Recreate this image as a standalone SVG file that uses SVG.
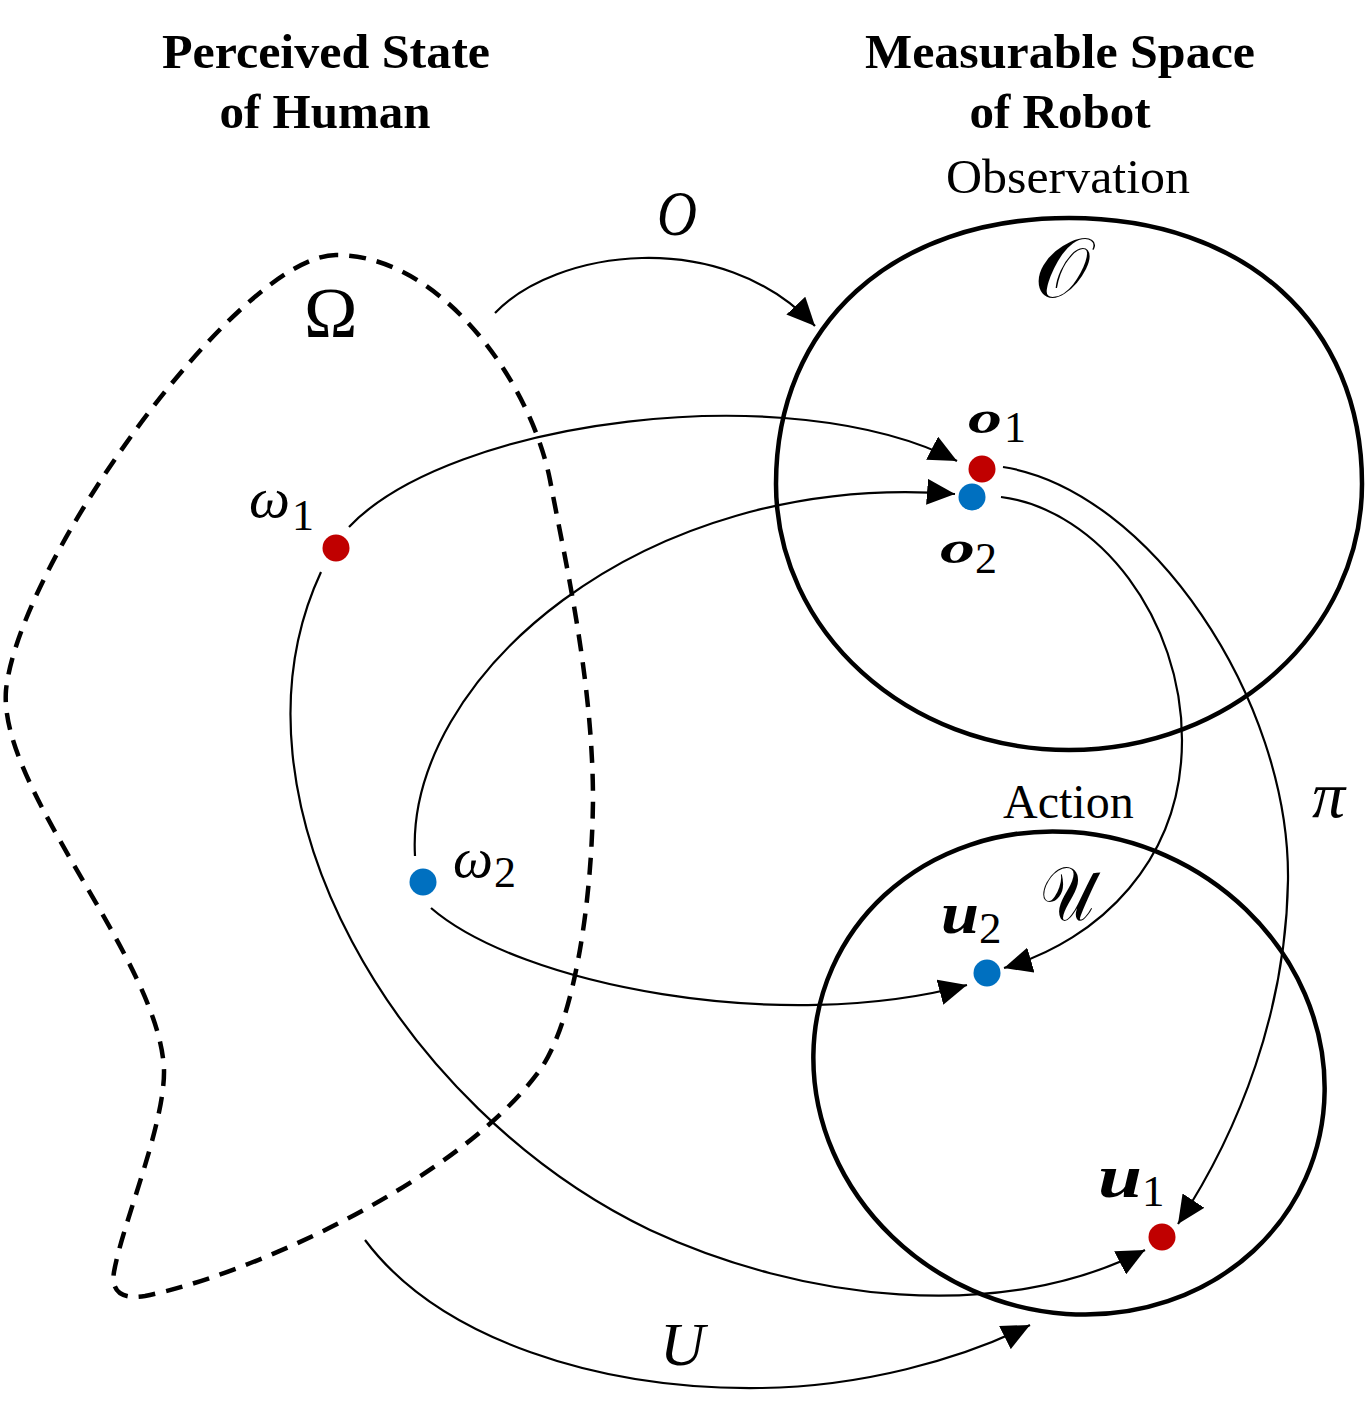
<svg xmlns="http://www.w3.org/2000/svg" width="1370" height="1411" viewBox="0 0 1370 1411">
<defs>
<style>
.title{font-family:"Liberation Serif","Times New Roman",serif;font-weight:bold;font-size:49px;text-anchor:middle;fill:#000}
.lbl{font-family:"Liberation Serif","Times New Roman",serif;font-size:48px;fill:#000}
.mi{font-family:"Liberation Serif","Times New Roman",serif;font-style:italic;fill:#000}
.mb{font-family:"Liberation Serif","Times New Roman",serif;font-style:italic;font-weight:bold;fill:#000}
.mr{font-family:"Liberation Serif","Times New Roman",serif;fill:#000}
.scr{font-family:"DejaVu Serif","DejaVu Sans","Noto Sans",serif;font-style:normal;fill:#000}
.set{fill:none;stroke:#000;stroke-width:4.5}
.dash{fill:none;stroke:#000;stroke-width:4.5;stroke-dasharray:17 11}
.conn{fill:none;stroke:#000;stroke-width:2.2;marker-end:url(#ah)}
.red{fill:#C00000}
.blue{fill:#0070C0}
</style>
<marker id="ah" markerUnits="userSpaceOnUse" markerWidth="30" markerHeight="26" refX="28" refY="13" orient="auto">
<path d="M0,0 L28,13 L0,26 Z" fill="#000"/>
</marker>
</defs>
<rect width="1370" height="1411" fill="#fff"/>

<g id="title-human">
<text class="title" x="326" y="68" textLength="328" lengthAdjust="spacingAndGlyphs">Perceived State</text>
<text class="title" x="325" y="128">of Human</text>
</g>
<g id="title-robot">
<text class="title" x="1060" y="68" textLength="390" lengthAdjust="spacingAndGlyphs">Measurable Space</text>
<text class="title" x="1060" y="128">of Robot</text>
</g>

<g id="omega-region">
<path class="dash" d="M336,255 C240,255 20,560 6,690 C-2,790 160,960 164,1070 C165,1125 122,1225 114,1272 C111,1290 120,1300 145,1296 C250,1275 460,1180 540,1070 C575,1020 592,900 593,800 C593,680 565,560 550,480 C530,380 440,255 336,255 Z"/>
<text class="mr" x="304" y="337" font-size="72">Ω</text>
</g>

<g id="observation-space">
<path class="set" d="M1362,484 C1362,324 1245,218 1069,218 C893,218 776,324 776,484 C776,631 907,750 1069,750 C1231,750 1362,631 1362,484 Z"/>
<text class="lbl" x="1068" y="193" text-anchor="middle" textLength="244" lengthAdjust="spacingAndGlyphs">Observation</text>
<text class="scr" x="1034" y="297" font-size="84" textLength="56" lengthAdjust="spacingAndGlyphs">𝒪</text>
</g>

<g id="action-space">
<ellipse class="set" cx="1069" cy="1073" rx="259" ry="238" transform="rotate(24 1069 1073)"/>
<text class="lbl" x="1003" y="818">Action</text>
<text class="scr" x="1040" y="920" font-size="76" textLength="54" lengthAdjust="spacingAndGlyphs">𝒰</text>
</g>

<g id="connectors">
<path id="map-O" class="conn" d="M495,313 C555,250 720,225 815,326"/>
<path id="w1-o1" class="conn" d="M349,527 C450,420 790,375 957,461"/>
<path id="w2-o2" class="conn" d="M415,856 C405,680 640,470 955,494"/>
<path id="o1-u1" class="conn" d="M1003,467 C1150,490 1290,700 1288,880 C1286,1010 1240,1130 1178,1224"/>
<path id="o2-u2" class="conn" d="M1001,497 C1100,510 1182,620 1182,740 C1182,860 1100,940 1004,968"/>
<path id="w2-u2" class="conn" d="M431,908 C520,985 780,1035 967,985"/>
<path id="w1-u1" class="conn" d="M321,572 C215,800 400,1110 650,1230 C800,1300 1000,1325 1145,1250"/>
<path id="map-U" class="conn" d="M365,1240 C440,1340 600,1390 760,1388 C860,1387 960,1360 1030,1325"/>
<text class="mi" x="657" y="235" font-size="64" textLength="40" lengthAdjust="spacingAndGlyphs">O</text>
<text class="mi" x="1312" y="817" font-size="66">π</text>
<text class="mi" x="660" y="1365" font-size="62">U</text>
</g>

<g id="omega1">
<circle class="red" cx="336" cy="548" r="13.5"/>
<text class="mi" x="249" y="517" font-size="56" textLength="41" lengthAdjust="spacingAndGlyphs">ω</text>
<text class="mr" x="292" y="530" font-size="44">1</text>
</g>
<g id="omega2">
<circle class="blue" cx="423" cy="882" r="13.5"/>
<text class="mi" x="453" y="877" font-size="56" textLength="40" lengthAdjust="spacingAndGlyphs">ω</text>
<text class="mr" x="494" y="887" font-size="44">2</text>
</g>
<g id="o1">
<circle class="red" cx="982" cy="469" r="13.5"/>
<text class="mb" x="968" y="433" font-size="46" textLength="34" lengthAdjust="spacingAndGlyphs">o</text>
<text class="mr" x="1004" y="442" font-size="44">1</text>
</g>
<g id="o2">
<circle class="blue" cx="972" cy="497" r="13.5"/>
<text class="mb" x="940" y="563" font-size="46" textLength="35" lengthAdjust="spacingAndGlyphs">o</text>
<text class="mr" x="975" y="573" font-size="44">2</text>
</g>
<g id="u2">
<circle class="blue" cx="987" cy="973" r="13.5"/>
<text class="mb" x="941" y="933" font-size="60" textLength="38" lengthAdjust="spacingAndGlyphs">u</text>
<text class="mr" x="979" y="943" font-size="45">2</text>
</g>
<g id="u1">
<circle class="red" cx="1162" cy="1237" r="13.5"/>
<text class="mb" x="1098" y="1197" font-size="62" textLength="44" lengthAdjust="spacingAndGlyphs">u</text>
<text class="mr" x="1142" y="1206" font-size="45">1</text>
</g>
</svg>
